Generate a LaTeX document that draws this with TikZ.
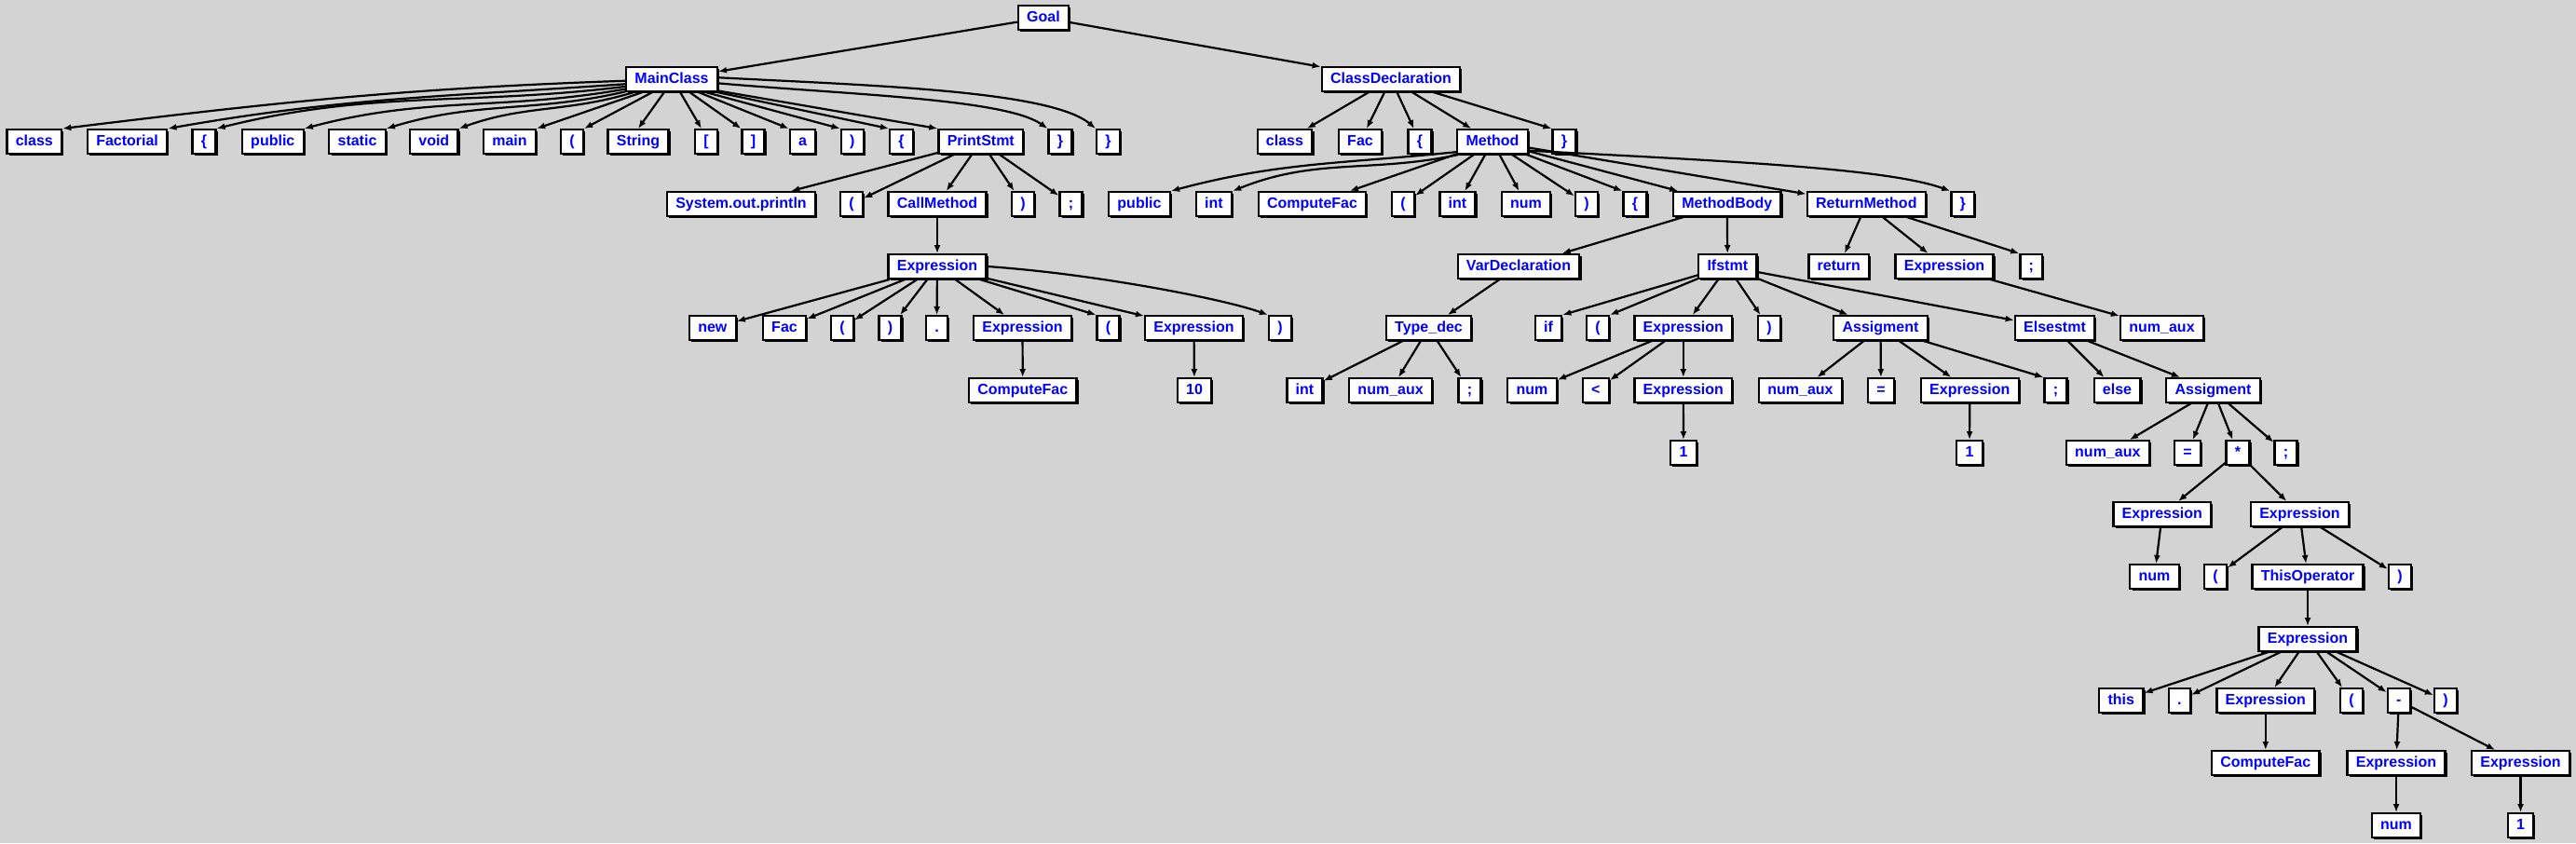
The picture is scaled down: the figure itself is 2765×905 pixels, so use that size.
\documentclass[tikz,border=0pt]{standalone}
\usepackage{fontspec}
\setmainfont{Liberation Sans}
\usetikzlibrary{arrows.meta,shadows}
\definecolor{bggray}{RGB}{211,211,211}
\begin{document}
\begin{tikzpicture}[x=1pt,y=1pt,
 box/.style={draw=black, line width=2.3pt, fill=white, text=blue,
   font=\bfseries\fontsize{16}{19}\selectfont, inner xsep=9.3pt, inner ysep=0pt,
   minimum height=25.7pt, text height=11.5pt, text depth=3.5pt,
   drop shadow={shadow xshift=2.2pt, shadow yshift=-2.2pt, opacity=1, fill=black}},
 conn/.style={draw=black, line width=2.2pt, line join=round, -{Latex[length=9pt,width=7pt]}},
 curv/.style={conn, out looseness=1, in looseness=0.4}]
\path[use as bounding box, fill=bggray] (0,0) rectangle (2765,-905);
% row 0
\node[box] (Goal) at (1120,-19) {Goal};
% row 1
\node[box] (MainClass) at (721,-85) {MainClass};
\node[box] (ClassDecl) at (1493,-85) {ClassDeclaration};
% row 2
\node[box] (cls) at (36.8,-152) {class};
\node[box] (Factorial) at (136.6,-152) {Factorial};
\node[box] (lbA) at (219,-152) {\{};
\node[box] (pubA) at (292.8,-152) {public};
\node[box] (static) at (383.5,-152) {static};
\node[box] (void) at (465.8,-152) {void};
\node[box] (main) at (547,-152) {main};
\node[box] (lpA) at (614,-152) {(};
\node[box] (String) at (685,-152) {String};
\node[box] (lsq) at (758,-152) {[};
\node[box] (rsq) at (808.5,-152) {]};
\node[box] (aa) at (861.5,-152) {a};
\node[box] (rpA) at (914.8,-152) {)};
\node[box] (lbB) at (967.5,-152) {\{};
\node[box] (PrintStmt) at (1052.8,-152) {PrintStmt};
\node[box] (rbA) at (1138,-152) {\}};
\node[box] (rbB) at (1189.5,-152) {\}};
\node[box] (clsB) at (1379,-152) {class};
\node[box] (Fac) at (1460,-152) {Fac};
\node[box] (lbC) at (1524,-152) {\{};
\node[box] (Method) at (1602,-152) {Method};
\node[box] (rbD) at (1679,-152) {\}};
% row 3
\node[box] (sop) at (795.5,-219) {System.out.println};
\node[box] (lpB) at (914,-219) {(};
\node[box] (CallMethod) at (1006,-219) {CallMethod};
\node[box] (rpB) at (1098,-219) {)};
\node[box] (smA) at (1149.5,-219) {;};
\node[box] (pubB) at (1223,-219) {public};
\node[box] (intA) at (1303,-219) {int};
\node[box] (CFA) at (1408.5,-219) {ComputeFac};
\node[box] (lpE) at (1506,-219) {(};
\node[box] (intB) at (1564.5,-219) {int};
\node[box] (numA) at (1638,-219) {num};
\node[box] (rpE) at (1703,-219) {)};
\node[box] (lbD) at (1755,-219) {\{};
\node[box] (MethodBody) at (1853.8,-219) {MethodBody};
\node[box] (ReturnMethod) at (2003.3,-219) {ReturnMethod};
\node[box] (rbC) at (2106.8,-219) {\}};
% row 4
\node[box] (ExA) at (1006,-286) {Expression};
\node[box] (VarDecl) at (1630,-286) {VarDeclaration};
\node[box] (Ifstmt) at (1854.3,-286) {Ifstmt};
\node[box] (ret) at (1973.8,-286) {return};
\node[box] (ExM) at (2087,-286) {Expression};
\node[box] (smE) at (2180.3,-286) {;};
% row 5
\node[box] (new) at (764.8,-352) {new};
\node[box] (FacB) at (842,-352) {Fac};
\node[box] (lpC) at (904,-352) {(};
\node[box] (rpC) at (955.5,-352) {)};
\node[box] (dotA) at (1005.5,-352) {.};
\node[box] (ExB) at (1097.5,-352) {Expression};
\node[box] (lpD) at (1189.5,-352) {(};
\node[box] (ExC) at (1281.5,-352) {Expression};
\node[box] (rpD) at (1374,-352) {)};
\node[box] (Tdec) at (1533.5,-352) {Type\_dec};
\node[box] (ifn) at (1662,-352) {if};
\node[box] (lpF) at (1715,-352) {(};
\node[box] (ExD) at (1806.8,-352) {Expression};
\node[box] (rpF) at (1899,-352) {)};
\node[box] (AsA) at (2018.5,-352) {Assigment};
\node[box] (Else) at (2205.5,-352) {Elsestmt};
\node[box] (naD) at (2320.5,-352) {num\_aux};
% row 6
\node[box] (CFB) at (1097.8,-419) {ComputeFac};
\node[box] (ten) at (1282,-419) {10};
\node[box] (intC) at (1400.5,-419) {int};
\node[box] (naA) at (1492.6,-419) {num\_aux};
\node[box] (smB) at (1577.5,-419) {;};
\node[box] (numB) at (1644.5,-419) {num};
\node[box] (lt) at (1712.8,-419) {<};
\node[box] (ExE) at (1806.8,-419) {Expression};
\node[box] (naB) at (1932.5,-419) {num\_aux};
\node[box] (eqA) at (2019,-419) {=};
\node[box] (ExF) at (2114.3,-419) {Expression};
\node[box] (smC) at (2206.5,-419) {;};
\node[box] (els) at (2272.5,-419) {else};
\node[box] (AsB) at (2375.5,-419) {Assigment};
% row 7
\node[box] (oneA) at (1807,-486) {1};
\node[box] (oneB) at (2114,-486) {1};
\node[box] (naC) at (2262.3,-486) {num\_aux};
\node[box] (eqB) at (2348,-486) {=};
\node[box] (star) at (2402,-486) {*};
\node[box] (smD) at (2453.5,-486) {;};
% row 8
\node[box] (ExG) at (2320.8,-552) {Expression};
\node[box] (ExH) at (2468.4,-552) {Expression};
% row 9
\node[box] (numC) at (2312.5,-619) {num};
\node[box] (lpG) at (2378,-619) {(};
\node[box] (ThisOp) at (2477,-619) {ThisOperator};
\node[box] (rpG) at (2576,-619) {)};
% row 10
\node[box] (ExI) at (2477,-686) {Expression};
% row 11
\node[box] (this) at (2276.8,-752) {this};
\node[box] (dotB) at (2339.4,-752) {.};
\node[box] (ExJ) at (2431.8,-752) {Expression};
\node[box] (lpH) at (2524,-752) {(};
\node[box] (minus) at (2574.8,-752) {-};
\node[box] (rpH) at (2625,-752) {)};
% row 12
\node[box] (CFC) at (2431.8,-819) {ComputeFac};
\node[box] (ExK) at (2572,-819) {Expression};
\node[box] (ExL) at (2705.5,-819) {Expression};
% row 13
\node[box] (numD) at (2572,-886) {num};
\node[box] (oneC) at (2705.5,-886) {1};

% ---- edges ----
\draw[conn] (Goal) -- (MainClass);
\draw[conn] (Goal) -- (ClassDecl);
% MainClass fan
\draw[conn] (MainClass.182) to[out=182,in=7] (cls.north east);
\draw[conn] (MainClass.186) to[out=184,in=10] (Factorial.north east);
\draw[conn] (MainClass.189) to[out=187,in=14] (lbA.north east);
\draw[conn] (MainClass.192) to[out=190,in=15] (pubA.north east);
\draw[conn] (MainClass.195) to[out=193,in=17] (static.north east);
\draw[conn] (MainClass.199) to[out=197,in=20] (void.north east);
\draw[conn] (MainClass.204) -- (main.north east);
\draw[conn] (MainClass.214) -- (lpA.north east);
\draw[conn] (MainClass.240) -- (String.north);
\draw[conn] (MainClass.303) -- (lsq.110);
\draw[conn] (MainClass.324) -- (rsq.north west);
\draw[conn] (MainClass.334) -- (aa.north west);
\draw[conn] (MainClass.339) -- (rpA.north west);
\draw[conn] (MainClass.344) -- (lbB.north west);
\draw[conn] (MainClass.346.5) -- (PrintStmt.north west);
\draw[curv] (MainClass.-5) to[out=-5,in=145] (rbA.north west);
\draw[curv] (MainClass.2) to[out=-3,in=140] (rbB.north west);
% PrintStmt
\draw[conn] (PrintStmt) -- (sop);
\draw[conn] (PrintStmt) -- (lpB);
\draw[conn] (PrintStmt) -- (CallMethod);
\draw[conn] (PrintStmt) -- (rpB);
\draw[conn] (PrintStmt) -- (smA);
\draw[conn] (CallMethod) -- (ExA);
% Expression (call)
\draw[conn] (ExA) -- (new);
\draw[conn] (ExA) -- (FacB);
\draw[conn] (ExA) -- (lpC);
\draw[conn] (ExA) -- (rpC);
\draw[conn] (ExA) -- (dotA);
\draw[conn] (ExA) -- (ExB);
\draw[conn] (ExA) -- (lpD.north west);
\draw[conn] (ExA) -- (ExC);
\draw[curv] (ExA.east) to[out=-4,in=160] (rpD.north west);
\draw[conn] (ExB) -- (CFB);
\draw[conn] (ExC) -- (ten);
% ClassDeclaration
\draw[conn] (ClassDecl) -- (clsB);
\draw[conn] (ClassDecl) -- (Fac);
\draw[conn] (ClassDecl) -- (lbC);
\draw[conn] (ClassDecl) -- (Method);
\draw[conn] (ClassDecl) -- (rbD.north west);
% Method
\draw[conn] (Method.196) to[out=186,in=15] (pubB.north east);
\draw[conn] (Method.201) to[out=192,in=22] (intA.north east);
\draw[conn] (Method) -- (CFA);
\draw[conn] (Method) -- (lpE);
\draw[conn] (Method) -- (intB);
\draw[conn] (Method) -- (numA);
\draw[conn] (Method) -- (rpE);
\draw[conn] (Method) -- (lbD.north west);
\draw[conn] (Method) -- (MethodBody);
\draw[conn] (Method) -- (ReturnMethod);
\draw[conn, out looseness=1.2, in looseness=0.4] (Method.-14) to[out=-3,in=160] (rbC.north west);
% MethodBody
\draw[conn] (MethodBody) -- (VarDecl);
\draw[conn] (MethodBody) -- (Ifstmt);
\draw[conn] (VarDecl) -- (Tdec);
\draw[conn] (Tdec) -- (intC);
\draw[conn] (Tdec) -- (naA);
\draw[conn] (Tdec) -- (smB);
% Ifstmt
\draw[conn] (Ifstmt) -- (ifn.north east);
\draw[conn] (Ifstmt) -- (lpF.north east);
\draw[conn] (Ifstmt) -- (ExD);
\draw[conn] (Ifstmt) -- (rpF);
\draw[conn] (Ifstmt) -- (AsA);
\draw[conn] (Ifstmt) -- (Else);
\draw[conn] (ExD) -- (numB);
\draw[conn] (ExD) -- (lt);
\draw[conn] (ExD) -- (ExE);
\draw[conn] (ExE) -- (oneA);
\draw[conn] (AsA) -- (naB);
\draw[conn] (AsA) -- (eqA);
\draw[conn] (AsA) -- (ExF);
\draw[conn] (AsA) -- (smC.north west);
\draw[conn] (ExF) -- (oneB);
\draw[conn] (Else) -- (els);
\draw[conn] (Else) -- (AsB);
\draw[conn] (AsB) -- (naC);
\draw[conn] (AsB) -- (eqB);
\draw[conn] (AsB) -- (star);
\draw[conn] (AsB) -- (smD);
\draw[conn] (star) -- (ExG);
\draw[conn] (star) -- (ExH);
\draw[conn] (ExG) -- (numC);
\draw[conn] (ExH) -- (lpG);
\draw[conn] (ExH) -- (ThisOp);
\draw[conn] (ExH) -- (rpG);
\draw[conn] (ThisOp) -- (ExI);
\draw[conn] (ExI) -- (this);
\draw[conn] (ExI) -- (dotB);
\draw[conn] (ExI) -- (ExJ);
\draw[conn] (ExI) -- (lpH);
\draw[conn] (ExI) -- (minus);
\draw[conn] (ExI) -- (rpH);
\draw[conn] (ExJ) -- (CFC);
\draw[conn] (minus) -- (ExK);
\draw[conn] (minus) -- (ExL);
\draw[conn] (ExK) -- (numD);
\draw[conn] (ExL) -- (oneC);
% ReturnMethod
\draw[conn] (ReturnMethod) -- (ret);
\draw[conn] (ReturnMethod) -- (ExM);
\draw[conn] (ReturnMethod) -- (smE.north west);
\draw[conn] (ExM) -- (naD);
\end{tikzpicture}
\end{document}
